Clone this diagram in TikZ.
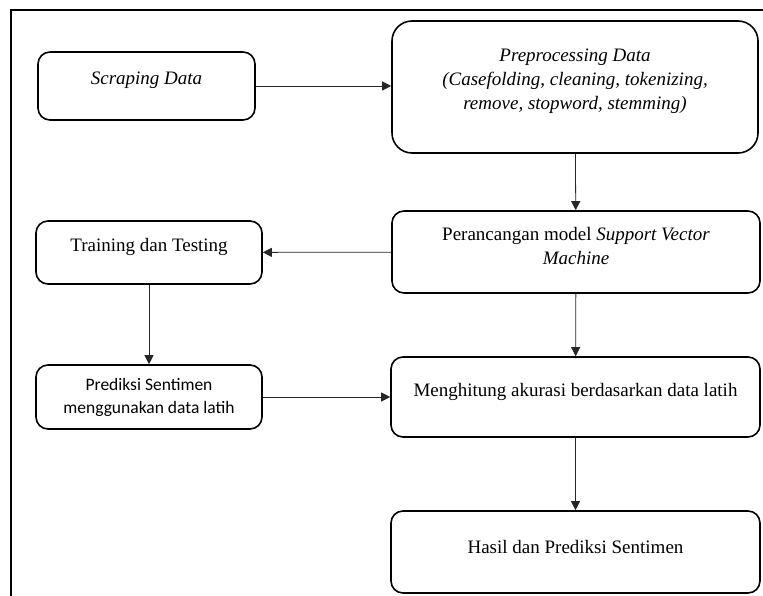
\documentclass[tikz,border=0pt]{standalone}
\usepackage{fontspec}
\setmainfont{Liberation Serif}
\newfontfamily\calibrifont{Carlito}
\usetikzlibrary{arrows.meta, positioning}

\begin{document}
\begin{tikzpicture}[x=1pt, y=-1pt,
  every node/.style={font=\fontsize{19}{24}\selectfont, align=center},
  box/.style={draw, line width=1.6pt, rounded corners=12pt, inner sep=0pt},
  uptext/.style={text depth=#1},
  flow/.style={-{Triangle[length=9pt, width=9pt]}, line width=0.8pt, draw=black!85}]
\useasboundingbox (0,0) rectangle (763,596);
\clip (0,0) rectangle (763,596);
\draw[line width=2pt] (11,610) -- (11,10) -- (780,10);
\node[box, uptext=16pt, minimum width=217pt, minimum height=68pt] (scrap) at (146.5,86) {\textit{Scraping Data}};
\node[box, uptext=16pt, rounded corners=20pt, minimum width=366pt, minimum height=132pt] (prep) at (575,87) {\textit{Preprocessing Data}\\ \textit{(Casefolding, cleaning, tokenizing,}\\ \textit{remove, stopword, stemming)}};
\node[box, uptext=12pt, minimum width=368pt, minimum height=82pt] (svm) at (576,252) {Perancangan model \textit{Support Vector}\\ \textit{Machine}};
\node[box, uptext=15pt, minimum width=226pt, minimum height=63pt] (train) at (149,252.5) {Training dan Testing};
\node[box, minimum width=226pt, minimum height=64pt, font=\calibrifont\fontsize{17.5}{23}\selectfont] (pred) at (149,397) {Prediksi Sentimen\\ menggunakan data latih};
\node[box, uptext=14pt, minimum width=369pt, minimum height=80pt] (acc) at (575.5,397) {Menghitung akurasi berdasarkan data latih};
\node[box, uptext=10pt, minimum width=369pt, minimum height=82pt] (hasil) at (575.5,552) {Hasil dan Prediksi Sentimen};
\draw[flow] (scrap) -- (scrap -| prep.west);
\draw[flow] (prep) -- (svm);
\draw[flow] (svm) -- (train);
\draw[flow] (train) -- (pred);
\draw[flow] (pred) -- (acc);
\draw[flow] (svm) -- (acc);
\draw[flow] (acc) -- (hasil);
\end{tikzpicture}
\end{document}
